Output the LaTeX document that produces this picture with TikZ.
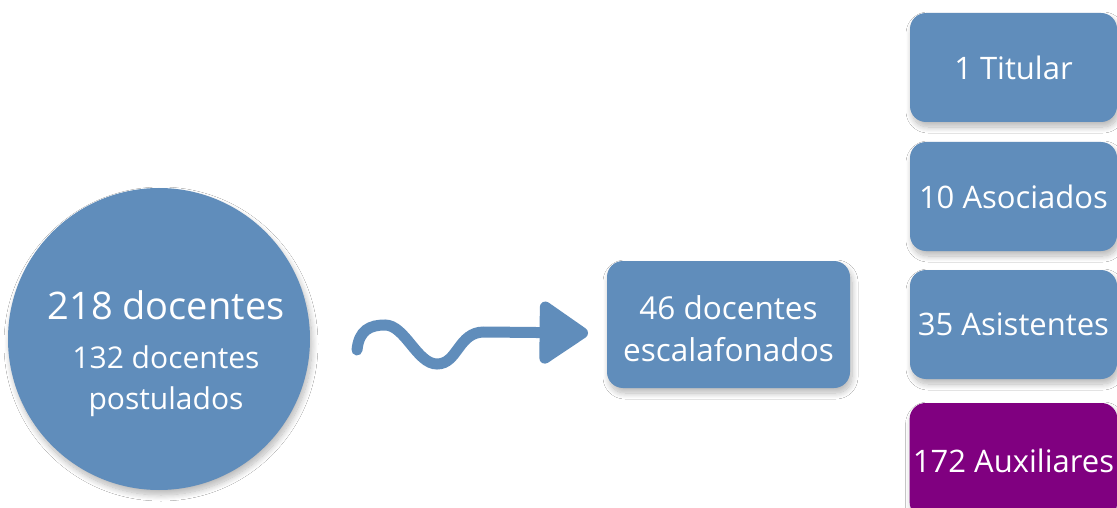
\documentclass[tikz,border=0pt]{standalone}
\usepackage{fontspec}
\setmainfont{Open Sans}
\usetikzlibrary{arrows.meta,shadows.blur}
\definecolor{boxblue}{RGB}{96,141,187}
\definecolor{boxpurple}{RGB}{128,0,128}
\tikzset{
  shade/.style={blur shadow={shadow blur steps=12, shadow xshift=2pt, shadow yshift=-5pt, shadow opacity=28, shadow blur radius=6pt}},
  rbox/.style={draw=none, fill=boxblue, rounded corners=16pt, text=white, align=center, shade},
  rightbox/.style={rbox, minimum width=207pt, minimum height=109pt, font=\fontsize{31}{36}\selectfont},
  circ/.style={circle, fill=boxblue, draw=none, minimum size=302pt, text=white, align=center, shade},
  wtext/.style={text=white, align=center},
  wave/.style={draw=boxblue, line width=11pt, line cap=round, -{Triangle[length=53pt,width=69pt,round=false]}}
}
\begin{document}
\begin{tikzpicture}[x=1pt,y=-1pt]
\useasboundingbox (0,0) rectangle (1117,508);
\fill[white] (0,0) rectangle (1117,508);
\node[circ] (c) at (159,339) {};
\node[wtext, font=\fontsize{38}{42}\selectfont] (c1) at (166,305) {218 docentes};
\node[wtext, font=\fontsize{30}{41}\selectfont] (c2) at (166,381) {132 docentes\\postulados};
\node[rbox, minimum width=243pt, minimum height=127pt] (m) at (728.5,324.5) {};
\node[wtext, font=\fontsize{31.5}{42}\selectfont] (mt) at (728.5,328.5) {46 docentes\\escalafonados};
\node[rightbox] (r1) at (1013.5,67.5) {1 Titular};
\node[rightbox] (r2) at (1013.5,196.5) {10 Asociados};
\node[rightbox] (r3) at (1013.5,324.5) {35 Asistentes};
\node[rightbox, fill=boxpurple, minimum height=115pt] (r4) at (1013.5,460.5) {172 Auxiliares};
\coordinate (ws) at (357,350);
\coordinate (we) at (588,333);
\draw[wave] (ws) .. controls (359,330) and (370,325) .. (385,325) .. controls (405,325) and (417,364) .. (437,364) .. controls (458,364) and (458,332) .. (484,332) -- (we);
\end{tikzpicture}
\end{document}
